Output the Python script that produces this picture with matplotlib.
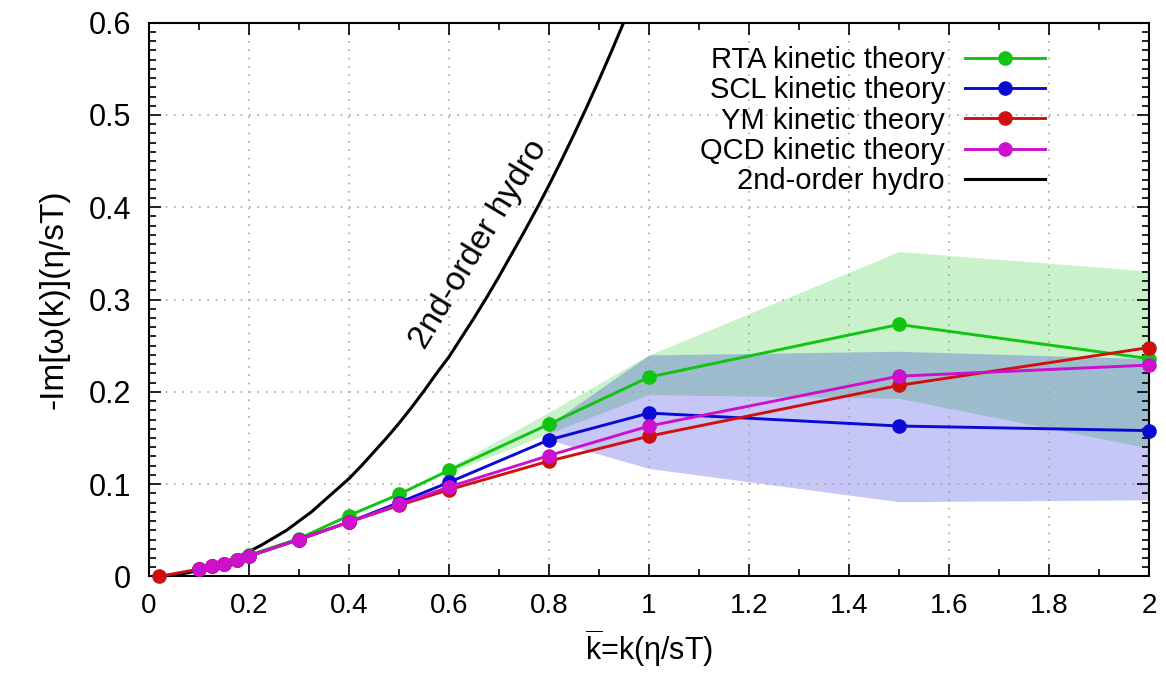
import matplotlib
matplotlib.use("Agg")
import matplotlib.pyplot as plt
from matplotlib.ticker import MultipleLocator, FormatStrFormatter

# =========================
# DATA
# =========================
k_pts = [0.1, 0.125, 0.15, 0.175, 0.2, 0.3, 0.4, 0.5, 0.6, 0.8, 1.0, 1.5, 2.0]
rta = [0.008, 0.011, 0.014, 0.018, 0.023, 0.041, 0.066, 0.089, 0.115, 0.165, 0.216, 0.273, 0.236]
scl = [0.008, 0.011, 0.014, 0.018, 0.022, 0.040, 0.059, 0.080, 0.102, 0.148, 0.177, 0.163, 0.158]
qcd = [0.008, 0.011, 0.014, 0.018, 0.022, 0.040, 0.059, 0.078, 0.097, 0.131, 0.163, 0.217, 0.229]

k_ym = [0.02, 0.1, 0.125, 0.15, 0.175, 0.2, 0.3, 0.4, 0.5, 0.6, 0.8, 1.0, 1.5, 2.0]
ym = [0.0, 0.008, 0.011, 0.014, 0.018, 0.022, 0.040, 0.059, 0.077, 0.094, 0.125, 0.152, 0.207, 0.248]

# uncertainty bands
k_rta_band = [0.6, 0.8, 1.0, 1.5, 2.0]
rta_lo = [0.112, 0.155, 0.197, 0.193, 0.139]
rta_hi = [0.118, 0.178, 0.240, 0.352, 0.331]

k_scl_band = [0.8, 1.0, 1.5, 2.0]
scl_lo = [0.148, 0.117, 0.081, 0.083]
scl_hi = [0.165, 0.240, 0.244, 0.236]

# 2nd-order hydro curve
k_hydro = [0.02, 0.05, 0.075, 0.1, 0.125, 0.15, 0.175, 0.2, 0.225, 0.25, 0.275, 0.3,
           0.325, 0.35, 0.375, 0.4, 0.425, 0.45, 0.475, 0.5, 0.525,
           0.55, 0.575, 0.6, 0.625, 0.65, 0.675, 0.7, 0.725, 0.75, 0.775, 0.8,
           0.825, 0.85, 0.875, 0.9, 0.925, 0.95]
hydro = [0.0003, 0.0017, 0.0037, 0.0067, 0.0104, 0.015, 0.0204, 0.027, 0.034, 0.042, 0.050, 0.060,
         0.070, 0.082, 0.094, 0.106, 0.120, 0.135, 0.150, 0.166, 0.183,
         0.201, 0.220, 0.238, 0.259, 0.280, 0.302, 0.325, 0.349, 0.373, 0.398, 0.424,
         0.451, 0.479, 0.508, 0.538, 0.569, 0.601]

green = "#11c411"
blue = "#0a0ad2"
red = "#d01010"
magenta = "#cc10cc"

plt.rcParams['font.family'] = ['Liberation Sans', 'DejaVu Sans']
plt.rcParams['mathtext.fontset'] = 'custom'
plt.rcParams['mathtext.rm'] = 'Liberation Sans'
plt.rcParams['mathtext.it'] = 'Liberation Sans'

fig = plt.figure(figsize=(11.66, 6.75), dpi=100)
ax = fig.add_axes([0.1278, 0.146, 0.8576, 0.8204])

# =========================
# BANDS
# =========================
ax.fill_between(k_rta_band, rta_lo, rta_hi, color=green, alpha=0.22, lw=0)
ax.fill_between(k_scl_band, scl_lo, scl_hi, color="#0000dc", alpha=0.22, lw=0)

# =========================
# CURVES
# =========================
style = dict(lw=2.1, marker='o', ms=9.5, clip_on=False)
ax.plot(k_pts, rta, color=green, label="RTA kinetic theory", zorder=3, **style)
ax.plot(k_pts, scl, color=blue, label="SCL kinetic theory", zorder=4, **style)
ax.plot(k_ym, ym, color=red, label="YM kinetic theory", zorder=5, **style)
ax.plot(k_pts, qcd, color=magenta, label="QCD kinetic theory", zorder=6, **style)
ax.plot(k_hydro, hydro, color="black", lw=2.2, label="2nd-order hydro", zorder=2)

ax.text(0.552, 0.245, "2nd-order hydro", rotation=59, rotation_mode='anchor',
        ha='left', va='baseline', fontsize=24)

# =========================
# AXES
# =========================
ax.set_xlim(0, 2)
ax.set_ylim(0, 0.6)
ax.xaxis.set_major_locator(MultipleLocator(0.2))
ax.xaxis.set_minor_locator(MultipleLocator(0.1))
ax.yaxis.set_major_locator(MultipleLocator(0.1))
ax.yaxis.set_minor_locator(MultipleLocator(0.01))
ax.xaxis.set_major_formatter(FormatStrFormatter('%g'))
ax.yaxis.set_major_formatter(FormatStrFormatter('%g'))

ax.tick_params(which='both', direction='in', top=True, right=True, width=1.2)
ax.tick_params(which='major', length=8.6)
ax.tick_params(which='minor', length=5)
ax.tick_params(axis='y', labelsize=22, pad=13)
ax.tick_params(axis='x', labelsize=20, pad=12)

for sp in ax.spines.values():
    sp.set_linewidth(1.5)

ax.grid(True, which='major', color='#a8a8a8', linestyle=(0, (1, 4)), lw=1.2)

ax.set_xlabel(r"$\overline{\mathrm{k}}$=k(η/sT)", fontsize=22, labelpad=6)
ax.set_ylabel("-Im[ω(k)](η/sT)", fontsize=24, labelpad=14)

leg = ax.legend(loc='upper right', markerfirst=False, frameon=False, fontsize=21,
                handlelength=2.74, handletextpad=0.69, labelspacing=0.08,
                borderpad=0, borderaxespad=0, bbox_to_anchor=(0.896, 0.958))

plt.savefig("out.png", dpi=100)
